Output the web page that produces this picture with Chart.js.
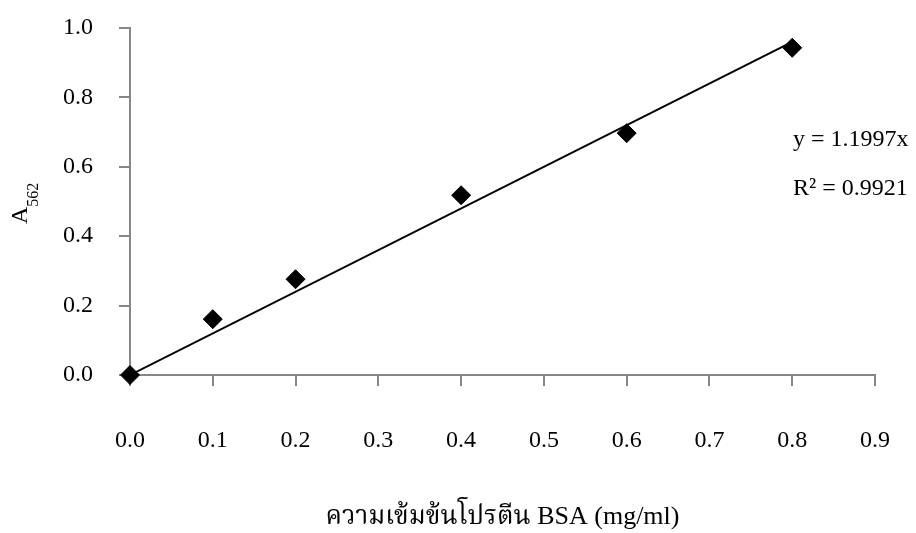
<!DOCTYPE html>
<html>
<head>
<meta charset="utf-8">
<script src="https://cdn.jsdelivr.net/npm/chart.js@4/dist/chart.umd.min.js"></script>
<style>
  html, body { margin: 0; padding: 0; background: #fff; }
  #wrap { width: 916px; height: 533px; position: relative; }
</style>
</head>
<body>
<div id="wrap"><canvas id="chart"></canvas></div>
<script>
const concX = [0, 0.1, 0.2, 0.4, 0.6, 0.8];
const absY  = [0, 0.161, 0.276, 0.518, 0.697, 0.943];

// Trendlinie y = 1.1997x, Endpunkte
const trendX = [0, 0.8];
const trendY = [0, 0.96];

const xTitle   = 'ความเข้มข้นโปรตีน BSA (mg/ml)';
const yTitle   = 'A';
const ySub     = '562';
const eqLines  = ['y = 1.1997x', 'R² = 0.9921'];

const SERIF = "'Liberation Serif', 'Times New Roman', 'Noto Serif Thai', 'Noto Sans Thai', serif";
const AXIS  = '#878787';

Chart.defaults.font.family = SERIF;
Chart.defaults.color = '#000';

// Achsentitel links (mit Index) + Gleichung
const labels = {
  id: 'labels',
  afterDraw(chart) {
    const ctx = chart.ctx;
    ctx.save();
    ctx.fillStyle = '#000';
    ctx.textBaseline = 'alphabetic';
    ctx.textAlign = 'left';

    ctx.save();
    ctx.translate(27, 224);
    ctx.rotate(-Math.PI / 2);
    ctx.font = '24px ' + SERIF;
    ctx.fillText(yTitle, 0, 0);
    const w = ctx.measureText(yTitle).width;
    ctx.font = '16px ' + SERIF;
    ctx.fillText(ySub, w, 11);
    ctx.restore();

    ctx.font = '24px ' + SERIF;
    ctx.fillText(eqLines[0], 793, 146);
    ctx.fillText(eqLines[1], 793, 195);
    ctx.restore();
  }
};

const grid = {
  display: true,
  drawOnChartArea: false,
  drawTicks: true,
  tickLength: 11,
  color: AXIS,
  lineWidth: 2,
};

new Chart(document.getElementById('chart'), {
  type: 'scatter',
  data: {
    datasets: [
      {
        data: concX.map((x, i) => ({ x, y: absY[i] })),
        pointStyle: 'rectRot',
        pointRadius: 9.5,
        pointBackgroundColor: '#000',
        pointBorderColor: '#000',
        pointBorderWidth: 1,
        clip: false,
        order: 0,
      },
      {
        type: 'line',
        data: trendX.map((x, i) => ({ x, y: trendY[i] })),
        borderColor: '#000',
        borderWidth: 2,
        pointRadius: 0,
        fill: false,
        order: 1,
      },
    ],
  },
  options: {
    responsive: true,
    maintainAspectRatio: false,
    animation: false,
    layout: { padding: { top: 28, right: 41, left: 0, bottom: 0 } },
    plugins: {
      legend: { display: false },
      tooltip: { enabled: false },
    },
    scales: {
      x: {
        type: 'linear',
        min: 0,
        max: 0.9,
        ticks: { stepSize: 0.1, padding: 40, font: { size: 24 }, callback: v => v.toFixed(1) },
        grid,
        border: { display: true, color: AXIS, width: 2 },
        title: { display: true, text: xTitle, font: { size: 26 }, padding: { top: 0, bottom: 0 } },
        afterFit: s => { s.height = 158; s.paddingLeft = 0; s.paddingRight = 0; },
      },
      y: {
        min: 0,
        max: 1,
        ticks: { stepSize: 0.2, padding: 26, font: { size: 24 }, callback: v => v.toFixed(1) },
        grid,
        border: { display: true, color: AXIS, width: 2 },
        afterFit: s => { s.width = 130; s.paddingTop = 0; s.paddingBottom = 0; },
      },
    },
  },
  plugins: [labels],
});
</script>
</body>
</html>
